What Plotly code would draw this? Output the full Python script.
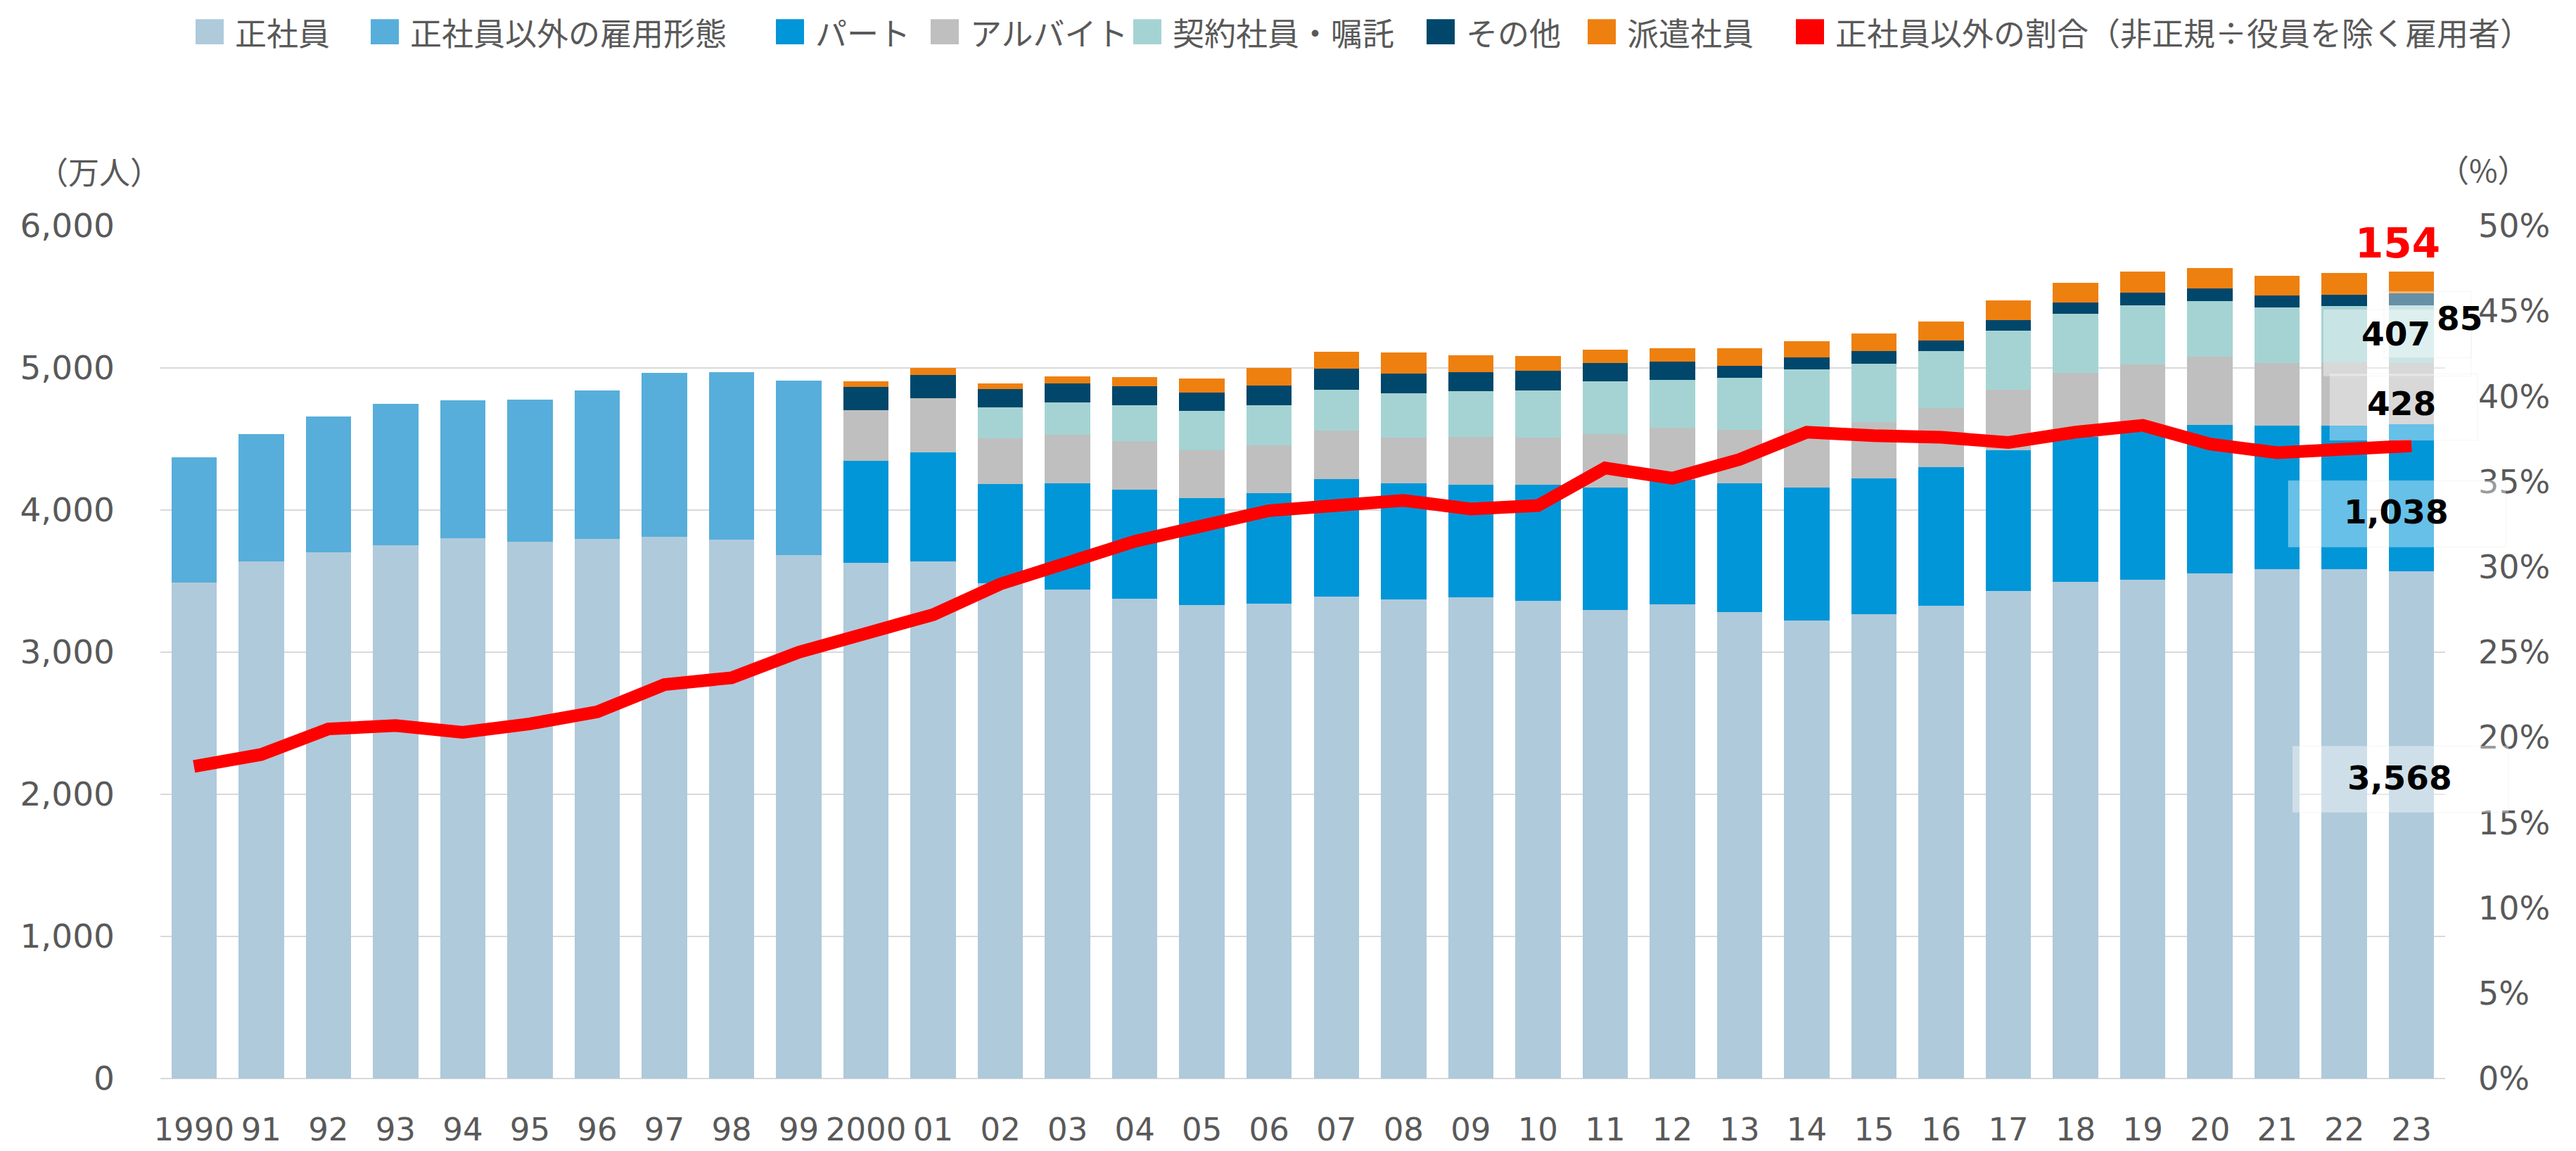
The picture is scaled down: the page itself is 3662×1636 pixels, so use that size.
import plotly.graph_objects as go

# ---------------- data ----------------
years = ["1990", "91", "92", "93", "94", "95", "96", "97", "98", "99",
         "2000", "01", "02", "03", "04", "05", "06", "07", "08", "09",
         "10", "11", "12", "13", "14", "15", "16", "17", "18", "19",
         "20", "21", "22", "23"]

seishain = [3488, 3640, 3703, 3751, 3802, 3777, 3797, 3810, 3792, 3683,
            3630, 3640, 3483, 3442, 3374, 3331, 3341, 3391, 3369, 3384,
            3359, 3295, 3336, 3280, 3222, 3267, 3326, 3432, 3493, 3511,
            3556, 3584, 3586, 3568]

hiseiki_other = [882, 897, 956, 997, 971, 1001, 1045, 1153, 1176, 1227] + [None] * 24

part = [None] * 10 + [715, 766, 702, 748, 770, 755, 778, 827, 821, 796,
                      821, 865, 877, 910, 938, 956, 976, 989, 1023, 1039,
                      1045, 1012, 1007, 1038]

arbeit = [None] * 10 + [360, 382, 319, 342, 340, 337, 335, 340, 319, 334,
                        329, 375, 367, 373, 408, 398, 415, 426, 447, 477,
                        476, 441, 446, 428]

keiyaku = [None] * 10 + [None, None, 221, 226, 254, 277, 284, 289, 312, 322,
                         333, 370, 335, 367, 421, 411, 403, 413, 418, 413,
                         393, 388, 398, 407]

sonota = [None] * 10 + [162, 163, 127, 132, 134, 126, 139, 147, 137, 132,
                        136, 132, 132, 84, 83, 88, 74, 78, 78, 88,
                        89, 83, 78, 85]

haken = [None] * 10 + [38, 48, 38, 50, 63, 99, 122, 121, 150, 119,
                       104, 93, 94, 127, 117, 125, 134, 137, 138, 148,
                       142, 142, 152, 154]

ratio = [18.3, 19.0, 20.5, 20.7, 20.3, 20.8, 21.5, 23.1, 23.5, 25.0,
         26.1, 27.2, 29.0, 30.3, 31.5, 32.4, 33.3, 33.6, 33.9, 33.4,
         33.6, 35.8, 35.2, 36.3, 37.9, 37.7, 37.6, 37.3, 37.9, 38.3,
         37.2, 36.7, 36.9, 37.1]

names = ["正社員", "正社員以外の雇用形態", "パート", "アルバイト",
         "契約社員・嘱託", "その他", "派遣社員",
         "正社員以外の割合（非正規÷役員を除く雇用者）"]

# ---------------- styles ----------------
colors = ["#AFCADB", "#57AEDA", "#0096D8", "#BFBFBF",
          "#A5D3D3", "#00476B", "#EE8010", "#FF0000"]
series = [seishain, hiseiki_other, part, arbeit, keiyaku, sonota, haken]

W, H = 3662, 1636
PL, PR, PT, PB = 220, 3468, 313, 1534  # plot area in px
TXT = "#595959"
CJK = "Noto Sans CJK JP"
NUMF = "DejaVu Sans"


def px(x):
    return (x - PL) / (PR - PL)


def py(y):
    return (PB - y) / (PB - PT)


fig = go.Figure()
for vals, nm, col in zip(series, names[:7], colors[:7]):
    fig.add_trace(go.Bar(x=years, y=vals, name=nm, marker_color=col,
                         marker_line_width=0, showlegend=False))

fig.add_trace(go.Scatter(x=years, y=ratio, name=names[7], yaxis="y2",
                         mode="lines", line=dict(color=colors[7], width=18),
                         showlegend=False))

shapes = []
annotations = []

# custom legend
leg_sym_left = [270, 519, 1095, 1315, 1603, 2020, 2249, 2545]
leg_y = 35
for nm, col, xl in zip(names, colors, leg_sym_left):
    shapes.append(dict(type="rect", xref="paper", yref="paper",
                       x0=px(xl), x1=px(xl + 40), y0=py(leg_y + 18), y1=py(leg_y - 18),
                       fillcolor=col, line=dict(width=0)))
    annotations.append(dict(xref="paper", yref="paper", x=px(xl + 54), y=py(leg_y),
                            xanchor="left", yanchor="middle", showarrow=False,
                            text=nm, font=dict(family=CJK, size=45, color=TXT)))

# axis unit labels
annotations.append(dict(xref="paper", yref="paper", x=px(133), y=py(234),
                        xanchor="center", yanchor="middle", showarrow=False,
                        text="（万人）", font=dict(family=CJK, size=44, color=TXT)))
annotations.append(dict(xref="paper", yref="paper", x=px(3523), y=py(231),
                        xanchor="center", yanchor="middle", showarrow=False,
                        text="（%）", font=dict(family=CJK, size=44, color=TXT)))

# 2023 value label boxes (semi-transparent white)
boxes = [  # x0, x1, y0, y1 in px
    (3251, 3558, 1058, 1153),
    (3245, 3554, 678, 773),
    (3304, 3514, 525, 620),
    (3295, 3505, 433, 528),
    (3381, 3505, 407, 502),
]
for x0, x1, y0, y1 in boxes:
    shapes.append(dict(type="rect", xref="paper", yref="paper", layer="above",
                       x0=px(x0), x1=px(x1), y0=py(y1), y1=py(y0),
                       fillcolor="rgba(255,255,255,0.4)",
                       line=dict(color="rgba(220,220,220,0.25)", width=1)))

last = -1
labels_2023 = [
    (f"{seishain[last]:,}", 3403, 1103),
    (f"{part[last]:,}", 3398, 723),
    (f"{arbeit[last]:,}", 3406, 567),
    (f"{keiyaku[last]:,}", 3398, 468),
    (f"{sonota[last]:,}", 3489, 445),
]
for t, x, y in labels_2023:
    annotations.append(dict(xref="paper", yref="paper", x=px(x), y=py(y),
                            xanchor="center", yanchor="middle", showarrow=False,
                            text=f"<b>{t}</b>",
                            font=dict(family=NUMF, size=47, color="#000000")))
annotations.append(dict(xref="paper", yref="paper", x=px(3400), y=py(338),
                        xanchor="center", yanchor="middle", showarrow=False,
                        text=f"<b>{haken[last]:,}</b>",
                        font=dict(family=NUMF, size=58, color="#FF0000")))

fig.update_layout(
    width=W, height=H, autosize=False,
    margin=dict(l=PL, r=W - PR, t=PT, b=H - PB, pad=0),
    paper_bgcolor="white", plot_bgcolor="white",
    barmode="stack", bargap=0.325,
    showlegend=False,
    shapes=shapes, annotations=annotations,
    xaxis=dict(type="category", tickangle=0, showgrid=False, showline=False,
               zeroline=False, ticks="", ticklabelstandoff=42,
               tickfont=dict(family=NUMF, size=45, color=TXT)),
    yaxis=dict(range=[0, 6000], dtick=1000, tickformat=",", showgrid=True,
               gridcolor="#D9D9D9", gridwidth=2, zeroline=True,
               zerolinecolor="#D9D9D9", zerolinewidth=2, showline=False,
               ticks="", ticklabelstandoff=64,
               tickfont=dict(family=NUMF, size=47, color=TXT)),
    yaxis2=dict(range=[0, 50], dtick=5, ticksuffix="%", overlaying="y",
                side="right", showgrid=False, zeroline=False, showline=False,
                ticks="", ticklabelstandoff=46,
                tickfont=dict(family=NUMF, size=46, color=TXT)),
)

fig.write_html("out.html")
